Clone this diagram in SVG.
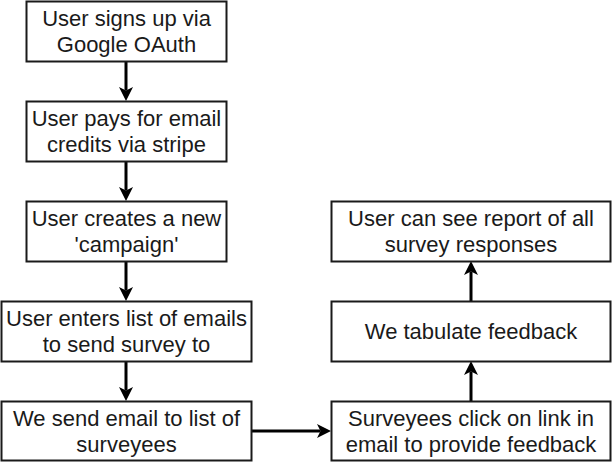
<svg xmlns="http://www.w3.org/2000/svg" width="612" height="462" viewBox="0 0 612 462">
<style>
.box{fill:#fff;stroke:#1a1a1a;stroke-width:2}
.t{font-family:"Liberation Sans",Arial,sans-serif;font-size:22px;fill:#1a1a1a;text-anchor:middle}
.e{stroke:#000;stroke-width:3;fill:none}
</style>
<defs>
<marker id="ah" markerUnits="userSpaceOnUse" markerWidth="14" markerHeight="14" viewBox="0 0 14 14" refX="3.5" refY="7" orient="auto">
<path d="M0,0 L14,7 L0,14 L3.5,7 Z" fill="#000"/>
</marker>
</defs>
<rect width="612" height="462" fill="#fff"/>
<g id="connectors">
<path class="e" d="M126,62 V90.5" marker-end="url(#ah)"/>
<path class="e" d="M126,162 V190.5" marker-end="url(#ah)"/>
<path class="e" d="M126,262 V290.5" marker-end="url(#ah)"/>
<path class="e" d="M126,362 V390.5" marker-end="url(#ah)"/>
<path class="e" d="M252,431 H320.5" marker-end="url(#ah)"/>
<path class="e" d="M471,401 V371.5" marker-end="url(#ah)"/>
<path class="e" d="M471,301 V271.5" marker-end="url(#ah)"/>
</g>
<g id="n1"><rect class="box" x="26.5" y="1.5" width="200" height="60"/><text class="t" x="126.5" y="26">User signs up via</text><text class="t" x="126.5" y="52">Google OAuth</text></g>
<g id="n2"><rect class="box" x="26.5" y="101.5" width="200" height="60"/><text class="t" x="126.5" y="126">User pays for email</text><text class="t" x="126.5" y="152">credits via stripe</text></g>
<g id="n3"><rect class="box" x="26.5" y="201.5" width="200" height="60"/><text class="t" x="126.5" y="226">User creates a new</text><text class="t" x="126.5" y="252">'campaign'</text></g>
<g id="n4"><rect class="box" x="1.5" y="301.5" width="250" height="60"/><text class="t" x="126.5" y="326">User enters list of emails</text><text class="t" x="126.5" y="352">to send survey to</text></g>
<g id="n5"><rect class="box" x="1.5" y="401.5" width="250" height="59"/><text class="t" x="126.5" y="426">We send email to list of</text><text class="t" x="126.5" y="452">surveyees</text></g>
<g id="n6"><rect class="box" x="331.5" y="401.5" width="279" height="59"/><text class="t" x="471" y="426">Surveyees click on link in</text><text class="t" x="471" y="452">email to provide feedback</text></g>
<g id="n7"><rect class="box" x="331.5" y="301.5" width="279" height="60"/><text class="t" x="471" y="339">We tabulate feedback</text></g>
<g id="n8"><rect class="box" x="331.5" y="201.5" width="279" height="60"/><text class="t" x="471" y="226">User can see report of all</text><text class="t" x="471" y="252">survey responses</text></g>
</svg>
